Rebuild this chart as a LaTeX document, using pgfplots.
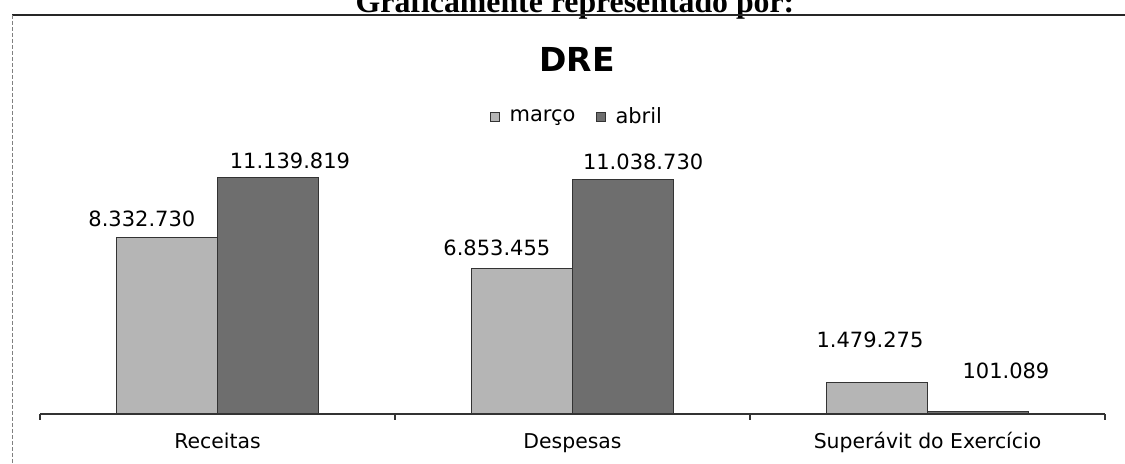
\documentclass[border=0pt]{standalone}
\usepackage{pgfplots}
\pgfplotsset{compat=1.18}
\usepackage{fontspec}
\setmainfont{DejaVu Sans}
\newfontfamily\serifbold{Liberation Serif}
\definecolor{marco}{HTML}{B5B5B5}
\definecolor{abril}{HTML}{6E6E6E}

\begin{document}
\begin{tikzpicture}
\useasboundingbox (0,0) rectangle (562.5pt,232pt);
\node[anchor=base, font=\serifbold\bfseries\fontsize{15.9}{18}\selectfont, inner sep=0] at (287.5pt,225.5pt) {Graficamente representado por:};
\draw[line width=0.7pt, black!85] (6pt,224.5pt) -- (562.5pt,224.5pt);
\draw[line width=0.5pt, black!50, dash pattern=on 2pt off 1pt] (6pt,224.5pt) -- (6pt,0pt);
\node[anchor=base, font=\bfseries\fontsize{16.5}{20}\selectfont, inner sep=0] at (288.5pt,196pt) {DRE};

\begin{axis}[
  at={(20pt,25pt)}, anchor=south west,
  scale only axis, width=532.5pt, height=127.2pt,
  xmin=-0.5, xmax=2.5, ymin=0, ymax=12000000,
  clip=false,
  ybar=0pt, bar width=50.5pt,
  axis x line=bottom, axis y line=none,
  x axis line style={-, line width=0.8pt, black!80},
  ytick=\empty,
  xtick={-0.5,0.5,1.5,2.5}, xticklabels={},
  tick align=outside, major tick length=3pt,
  major tick style={black!80, line width=0.6pt},
  extra x ticks={0,1,2},
  extra x tick labels={Receitas,Despesas,Superávit do Exercício},
  extra x tick style={major tick length=0pt, major tick style={draw=none}},
  xticklabel style={anchor=base, yshift=-17.5pt, font=\fontsize{10.2}{12}\selectfont},
  legend style={draw=none, fill=none, legend columns=2, at={(0.505,1.1675)}, anchor=center,
    font=\fontsize{10.5}{12}\selectfont,
    /tikz/every odd column/.append style={column sep=3pt},
    /tikz/every even column/.append style={column sep=8pt}},
  legend image code/.code={\draw[#1, line width=0.4pt] (0pt,-2.3pt) rectangle (4.6pt,2.3pt);},
]
\addplot[fill=marco, draw=black!80, line width=0.5pt] coordinates {(0,8332730) (1,6853455) (2,1479275)};
\addplot[fill=abril, draw=black!80, line width=0.5pt] coordinates {(0,11139819) (1,11038730) (2,101089)};
\legend{março,abril}
\begin{scope}[every node/.style={font=\fontsize{10.5}{12}\selectfont}]
\node at (axis cs:-0.213,9200000) {8.332.730};
\node at (axis cs:0.204,11930000) {11.139.819};
\node at (axis cs:0.787,7830000) {6.853.455};
\node at (axis cs:1.199,11890000) {11.038.730};
\node at (axis cs:1.838,3490000) {1.479.275};
\node at (axis cs:2.221,2030000) {101.089};
\end{scope}
\end{axis}
\end{tikzpicture}
\end{document}
